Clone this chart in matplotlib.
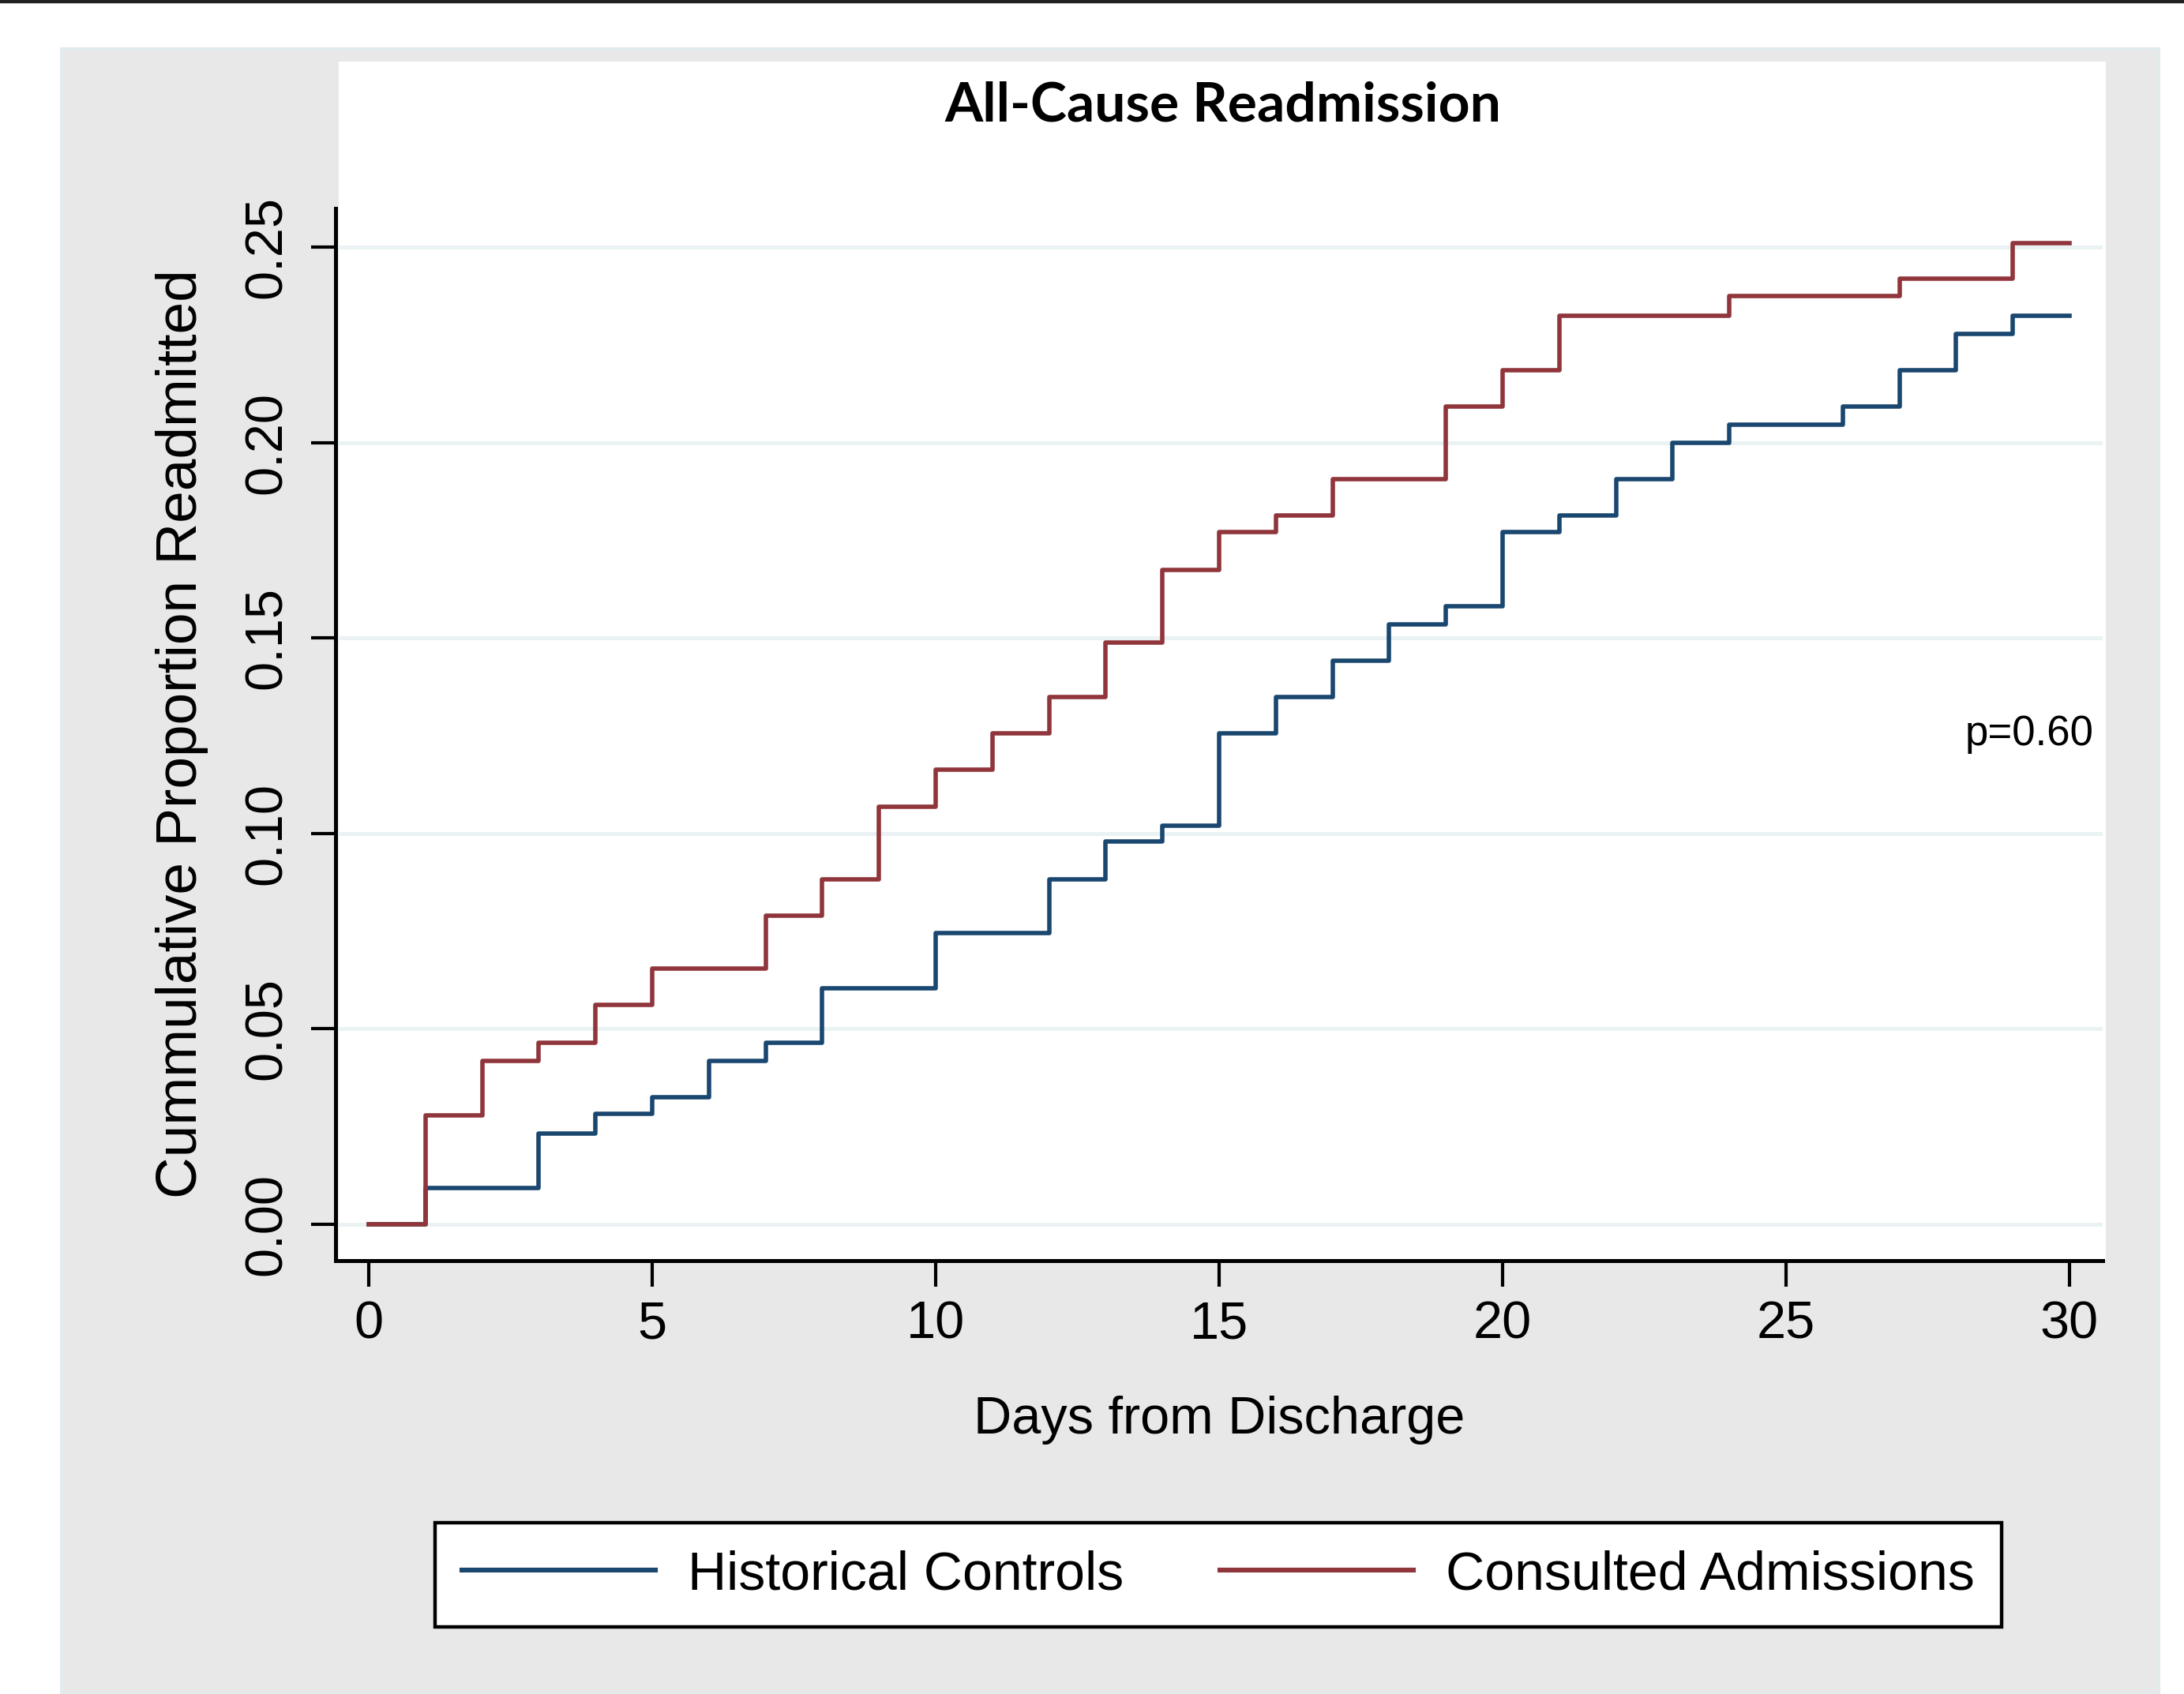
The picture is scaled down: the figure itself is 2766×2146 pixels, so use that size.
import matplotlib

matplotlib.use("Agg")

import matplotlib.pyplot as plt
from matplotlib.lines import Line2D
from matplotlib.patches import Rectangle


# --------------------------------------------------
# DATA
# --------------------------------------------------

days = list(range(0, 31))

historical_controls = [
    0.0000, 0.0093, 0.0093, 0.0232, 0.0282, 0.0325, 0.0418, 0.0464,
    0.0604, 0.0604, 0.0746, 0.0746, 0.0882, 0.0979, 0.1021, 0.1257,
    0.1350, 0.1443, 0.1536, 0.1582, 0.1771, 0.1814, 0.1907, 0.2000,
    0.2046, 0.2046, 0.2093, 0.2186, 0.2279, 0.2325, 0.2325,
]

consulted_admissions = [
    0.0000, 0.0279, 0.0418, 0.0464, 0.0561, 0.0654, 0.0654, 0.0789,
    0.0882, 0.1068, 0.1164, 0.1257, 0.1350, 0.1489, 0.1675, 0.1771,
    0.1814, 0.1907, 0.1907, 0.2093, 0.2186, 0.2325, 0.2325, 0.2325,
    0.2375, 0.2375, 0.2375, 0.2421, 0.2421, 0.2511, 0.2511,
]

x_ticks = [0, 5, 10, 15, 20, 25, 30]
y_ticks = [0.00, 0.05, 0.10, 0.15, 0.20, 0.25]

series_names = ["Historical Controls", "Consulted Admissions"]
p_text = "p=0.60"

navy = "#1a476f"
maroon = "#90353b"


# --------------------------------------------------
# FIGURE
# --------------------------------------------------

W, H = 2766, 2146
DPI = 200

fig = plt.figure(figsize=(W / DPI, H / DPI), dpi=DPI)
fig.patch.set_facecolor("white")


def fx(px):
    return px / W


def fy(py):
    return 1 - py / H


# gray graph region
fig.patches.append(
    Rectangle(
        (fx(78), 0), fx(2734) - fx(78), fy(62),
        transform=fig.transFigure, facecolor="#e8e8e8",
        edgecolor="#e2ebed", linewidth=1.5, zorder=0,
    )
)

# white plot region (incl. title area)
fig.patches.append(
    Rectangle(
        (fx(429), fy(1597)), fx(2667) - fx(429), fy(78) - fy(1597),
        transform=fig.transFigure, facecolor="white",
        edgecolor="none", zorder=1,
    )
)

# thin black rule at the very top
fig.lines.append(
    Line2D([0, 1], [fy(2), fy(2)], transform=fig.transFigure,
           color="#222222", linewidth=1.6, zorder=2)
)

ax = fig.add_axes([fx(425), fy(1597), fx(2663) - fx(425), fy(264) - fy(1597)])
ax.set_facecolor("none")
ax.set_zorder(3)

ax.step(days, historical_controls, where="post", color=navy,
        linewidth=2.0, label=series_names[0], zorder=3)
ax.step(days, consulted_admissions, where="post", color=maroon,
        linewidth=2.0, label=series_names[1], zorder=4)

ax.set_xlim(-0.585, 30.585)
ax.set_ylim(-0.0093, 0.26)

ax.set_xticks(x_ticks)
ax.set_yticks(y_ticks)
ax.set_yticklabels([f"{v:.2f}" for v in y_ticks])

for side in ["top", "right"]:
    ax.spines[side].set_visible(False)
for side in ["left", "bottom"]:
    ax.spines[side].set_linewidth(1.8)

ax.grid(axis="y", color="#eaf2f3", linewidth=1.8, zorder=1)
ax.set_axisbelow(True)

ax.tick_params(axis="x", length=12, width=1.5, pad=6,
               labelsize=24, labelfontfamily="Liberation Sans")
ax.tick_params(axis="y", length=11, width=1.5, pad=9,
               labelsize=24, labelfontfamily="Liberation Sans",
               labelrotation=90)
for lab in ax.get_yticklabels():
    lab.set_va("center")

ax.text(30.42, 0.1254, p_text, ha="right", va="center",
        fontsize=19, family="Liberation Sans")


# --------------------------------------------------
# TEXTS
# --------------------------------------------------

fig.text(fx(1549), fy(134), "All-Cause Readmission", ha="center",
         va="center", fontsize=25, fontweight="bold", family="Lato",
         zorder=5)

fig.text(fx(231), fy(930), "Cummulative Proportion Readmitted",
         rotation=90, ha="center", va="center", fontsize=26.3,
         family="Liberation Sans", zorder=5)

fig.text(fx(1544), fy(1799), "Days from Discharge", ha="center",
         va="center", fontsize=24, family="Liberation Sans", zorder=5)


# --------------------------------------------------
# LEGEND
# --------------------------------------------------

leg = fig.legend(
    loc="center",
    bbox_to_anchor=(fx(1543), fy(1995)),
    ncol=2,
    frameon=True,
    fancybox=False,
    edgecolor="black",
    facecolor="white",
    framealpha=1,
    prop={"family": "Liberation Sans", "size": 24.5},
    handlelength=3.6,
    handletextpad=0.6,
    columnspacing=1.8,
    borderpad=0.5,
)
leg.get_frame().set_linewidth(1.6)
for line in leg.get_lines():
    line.set_linewidth(2.2)

fig.savefig("out.png", dpi=DPI)
